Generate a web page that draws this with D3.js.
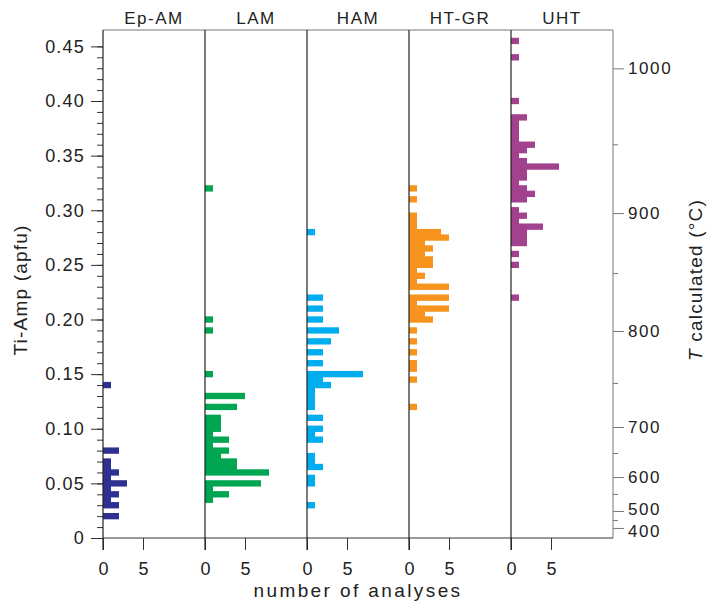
<!DOCTYPE html>
<html>
<head>
<meta charset="utf-8">
<script src="https://cdn.jsdelivr.net/npm/d3@7"></script>
<style>
  body { margin: 0; background: #fff; }
  text { font-family: "Liberation Sans", Arial, sans-serif; fill: #222; }
</style>
</head>
<body>
<div id="chart"></div>
<script>
// Groups, each histogram as [Ti-Amp bin centre, number of analyses]
const groups = ['Ep-AM', 'LAM', 'HAM', 'HT-GR', 'UHT'];
const groupColors = ['#2e3192', '#00a651', '#00aeef', '#f7941d', '#a2418e'];

const epAM = [
  [0.02, 2], [0.03, 2], [0.035, 1], [0.04, 2], [0.045, 1], [0.05, 3],
  [0.055, 1], [0.06, 2], [0.065, 1], [0.07, 1], [0.08, 2], [0.14, 1]
];
const lam = [
  [0.035, 1], [0.04, 3], [0.045, 1], [0.05, 7], [0.06, 8], [0.065, 4],
  [0.07, 4], [0.075, 2], [0.08, 3], [0.085, 1], [0.09, 3], [0.095, 1],
  [0.10, 2], [0.105, 2], [0.11, 2], [0.12, 4], [0.13, 5], [0.15, 1],
  [0.19, 1], [0.20, 1], [0.32, 1]
];
const ham = [
  [0.03, 1], [0.05, 1], [0.055, 1], [0.065, 2], [0.07, 1], [0.075, 1],
  [0.09, 2], [0.095, 1], [0.10, 2], [0.11, 2], [0.12, 1], [0.125, 1],
  [0.13, 1], [0.135, 1], [0.14, 3], [0.145, 2], [0.15, 7], [0.16, 2],
  [0.17, 2], [0.18, 3], [0.19, 4], [0.20, 2], [0.21, 2], [0.22, 2], [0.28, 1]
];
const htGR = [
  [0.12, 1], [0.145, 1], [0.155, 1], [0.16, 1], [0.17, 1], [0.18, 1],
  [0.19, 1], [0.20, 3], [0.205, 2], [0.21, 5], [0.215, 1], [0.22, 5],
  [0.23, 5], [0.235, 1], [0.24, 2], [0.245, 1], [0.25, 3], [0.255, 3],
  [0.26, 2], [0.265, 3], [0.27, 2], [0.275, 5], [0.28, 4], [0.285, 1],
  [0.29, 1], [0.295, 1], [0.31, 1], [0.32, 1]
];
const uht = [
  [0.22, 1], [0.25, 1], [0.26, 1], [0.27, 2], [0.275, 2], [0.28, 2],
  [0.285, 4], [0.29, 1], [0.295, 2], [0.30, 1], [0.31, 2], [0.315, 3],
  [0.32, 2], [0.325, 1], [0.33, 2], [0.335, 2], [0.34, 6], [0.345, 2],
  [0.35, 1], [0.355, 2], [0.36, 3], [0.365, 1], [0.37, 1], [0.375, 1],
  [0.38, 1], [0.385, 2], [0.40, 1], [0.44, 1], [0.455, 1]
];
const histograms = [epAM, lam, ham, htGR, uht];

// Right axis: calculated temperature and the Ti-Amp value it sits at
const tempLabels = [400, 500, 600, 700, 800, 900, 1000];
const tempTi = [0.0092, 0.0247, 0.0558, 0.1016, 0.1895, 0.2974, 0.4299];
const tempMinorTi = [0.0165, 0.0403, 0.0778, 0.1419, 0.2426, 0.3604];

const width = 709;
const height = 610;
const plotLeft = 103;
const plotTop = 30;
const plotBottom = 538;
const panelW = 102;
const plotRight = plotLeft + panelW * groups.length;
const halfBin = 0.0029;
const fontFamily = '"Liberation Sans", Arial, sans-serif';

const svg = d3
  .select('#chart')
  .append('svg')
  .attr('width', width)
  .attr('height', height);

const y = d3.scaleLinear().domain([0, 0.465]).range([plotBottom, plotTop]);
const x = d3.scaleLinear().domain([0, 12.75]).range([0, panelW]);

// Bars, titles and count axes
groups.forEach((g, i) => {
  const x0 = plotLeft + i * panelW;
  svg
    .append('g')
    .selectAll('rect')
    .data(histograms[i])
    .enter()
    .append('rect')
    .attr('x', x0)
    .attr('y', d => y(d[0] + halfBin))
    .attr('width', d => x(d[1]))
    .attr('height', d => y(d[0] - halfBin) - y(d[0] + halfBin))
    .attr('fill', groupColors[i]);

  svg
    .append('text')
    .attr('x', x0 + panelW / 2)
    .attr('y', 24)
    .attr('text-anchor', 'middle')
    .style('font-size', '17px')
    .style('letter-spacing', '1.5px')
    .text(g);

  const maxTick = Math.max(5, d3.max(histograms[i], d => d[1]));
  const ax = svg.append('g').attr('transform', `translate(${x0},${plotBottom})`);
  ax.call(
    d3.axisBottom(x)
      .tickValues(d3.range(0, maxTick + 1).filter(v => v % 5 !== 0))
      .tickSize(6)
      .tickSizeOuter(0)
      .tickFormat('')
  );
  ax.call(
    d3.axisBottom(x)
      .tickValues([0, 5])
      .tickSize(12)
      .tickSizeOuter(0)
      .tickPadding(12)
  );
  ax.selectAll('.domain').remove();
  ax.selectAll('line').attr('stroke', '#333');
  ax.selectAll('text')
    .style('font-size', '18px')
    .style('font-family', fontFamily)
    .attr('fill', '#222');
});

// Left axis
const yMinor = svg.append('g').attr('transform', `translate(${plotLeft},0)`);
yMinor.call(
  d3.axisLeft(y)
    .tickValues(d3.range(0, 46).map(v => v / 100))
    .tickSize(6)
    .tickSizeOuter(0)
    .tickFormat('')
);
const yMajor = svg.append('g').attr('transform', `translate(${plotLeft},0)`);
yMajor.call(
  d3.axisLeft(y)
    .tickValues(d3.range(0, 10).map(v => v * 0.05))
    .tickSize(12)
    .tickSizeOuter(0)
    .tickPadding(6)
    .tickFormat(d => (d === 0 ? '0' : d3.format('.2f')(d)))
);
yMinor.select('.domain').remove();
yMajor.select('.domain').remove();
yMinor.selectAll('line').attr('stroke', '#333');
yMajor.selectAll('line').attr('stroke', '#333');
yMajor.selectAll('text')
  .style('font-size', '18px')
  .style('letter-spacing', '1.2px')
  .style('font-family', fontFamily)
  .attr('fill', '#222');

// Right temperature axis
const tMinor = svg.append('g').attr('transform', `translate(${plotRight},0)`);
tMinor.call(
  d3.axisRight(y).tickValues(tempMinorTi).tickSize(5).tickSizeOuter(0).tickFormat('')
);
const tMajor = svg.append('g').attr('transform', `translate(${plotRight},0)`);
tMajor.call(
  d3.axisRight(y)
    .tickValues(tempTi)
    .tickSize(11)
    .tickSizeOuter(0)
    .tickPadding(4)
    .tickFormat((d, i) => tempLabels[i])
);
tMinor.select('.domain').remove();
tMajor.select('.domain').remove();
tMinor.selectAll('line').attr('stroke', '#777');
tMajor.selectAll('line').attr('stroke', '#777');
tMajor.selectAll('text')
  .style('font-size', '17px')
  .style('letter-spacing', '1.6px')
  .style('font-family', fontFamily)
  .attr('fill', '#222');
// 400 and 500 sit close together: nudge them apart a little
tMajor.selectAll('text')
  .filter((d, i) => i < 2)
  .attr('dy', (d, i) => (i === 0 ? '0.52em' : '0.22em'));

// Frame and panel separators
svg.append('line')
  .attr('x1', plotLeft).attr('x2', plotRight).attr('y1', plotTop).attr('y2', plotTop)
  .attr('stroke', '#777');
svg.append('line')
  .attr('x1', plotRight).attr('x2', plotRight).attr('y1', plotTop).attr('y2', plotBottom)
  .attr('stroke', '#777');
svg.append('line')
  .attr('x1', plotLeft).attr('x2', plotRight).attr('y1', plotBottom).attr('y2', plotBottom)
  .attr('stroke', '#333');
groups.forEach((g, i) => {
  svg.append('line')
    .attr('x1', plotLeft + i * panelW).attr('x2', plotLeft + i * panelW)
    .attr('y1', plotTop).attr('y2', plotBottom + 12)
    .attr('stroke', '#222')
    .attr('stroke-width', 1.2);
});

// Axis titles
svg.append('text')
  .attr('x', 358)
  .attr('y', 597)
  .attr('text-anchor', 'middle')
  .style('font-size', '19px')
  .style('letter-spacing', '2.4px')
  .text('number of analyses');

svg.append('text')
  .attr('transform', 'translate(27,290) rotate(-90)')
  .attr('text-anchor', 'middle')
  .style('font-size', '19px')
  .style('letter-spacing', '1.2px')
  .text('Ti-Amp (apfu)');

const tLabel = svg.append('text')
  .attr('transform', 'translate(702,280) rotate(-90)')
  .attr('text-anchor', 'middle')
  .style('font-size', '19px')
  .style('letter-spacing', '1.2px');
tLabel.append('tspan').style('font-style', 'italic').text('T');
tLabel.append('tspan').text(' calculated (°C)');
</script>
</body>
</html>
